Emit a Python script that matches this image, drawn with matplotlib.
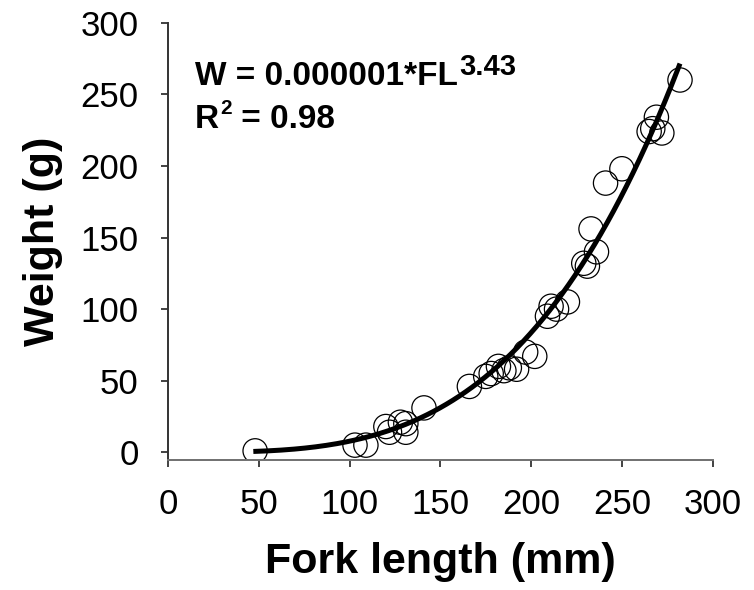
import matplotlib
matplotlib.use("Agg")
from matplotlib import pyplot as plt
import numpy as np

plt.rcParams['font.family'] = ['Liberation Sans', 'DejaVu Sans']

# fork length (mm) and weight (g) of each fish
fork_length = [48, 103, 109, 120, 122, 128, 131, 131, 141, 166, 175, 178,
               182, 185, 188, 192, 197, 202, 209, 211, 214, 220, 229, 231,
               233, 236, 241, 250, 265, 267, 269, 272, 282]
weight = [1, 5, 5, 18, 14, 21, 20, 14, 31, 46, 53, 55,
          60, 57, 59, 58, 70, 67, 95, 102, 100, 105, 132, 130,
          156, 140, 188, 198, 224, 226, 234, 223, 260]

# power curve W = a * FL^b
a_coef = 1.07e-6
b_exp = 3.43
r_squared = 0.98

fig = plt.figure(figsize=(7.54, 5.90), dpi=100)
ax = fig.add_axes([0.2228, 0.2203, 0.7224, 0.7412])

ax.scatter(fork_length, weight, s=17.5**2, facecolors='none',
           edgecolors='black', linewidths=0.9, zorder=2)

fl = np.linspace(47, 282, 200)
ax.plot(fl, a_coef * fl ** b_exp, color='black', lw=3.6,
        solid_capstyle='butt', zorder=3)

ax.set_xlim(0, 300)
ax.set_ylim(-5.4, 300)
ax.set_xticks([0, 50, 100, 150, 200, 250, 300])
ax.set_yticks([0, 50, 100, 150, 200, 250, 300])

for side in ['top', 'right']:
    ax.spines[side].set_visible(False)
ax.spines['left'].set_color('#333333')
ax.spines['bottom'].set_color('#707070')
ax.spines['left'].set_linewidth(1.4)
ax.spines['bottom'].set_linewidth(1.4)
ax.tick_params(direction='out', length=5, width=1.2, colors='#222222',
               labelsize=25, labelcolor='black')
ax.tick_params(axis='x', pad=15)
ax.tick_params(axis='y', pad=16)

ax.set_xlabel('Fork length (mm)', fontsize=31, fontweight='bold', labelpad=15)
ax.set_ylabel('Weight (g)', fontsize=31, fontweight='bold', labelpad=13)

# equation and fit quality, exponents as raised smaller text
eq = ax.text(0.0496, 0.8575, 'W = 0.000001*FL', transform=ax.transAxes,
             fontsize=24, fontweight='bold', va='baseline')
ax.annotate('%.2f' % b_exp, xy=(1, 0), xycoords=eq, xytext=(1, 12),
            textcoords='offset points', fontsize=21, fontweight='bold',
            va='baseline', ha='left')
r2 = ax.text(0.0496, 0.759, 'R', transform=ax.transAxes,
             fontsize=24, fontweight='bold', va='baseline')
ax.annotate('2', xy=(1, 0), xycoords=r2, xytext=(0.5, 15),
            textcoords='offset points', fontsize=15, fontweight='bold',
            va='baseline', ha='left')
ax.annotate(' = %.2f' % r_squared, xy=(1, 0), xycoords=r2, xytext=(9.5, 0),
            textcoords='offset points', fontsize=24, fontweight='bold',
            va='bottom', ha='left')

fig.savefig('out.png', dpi=100)
